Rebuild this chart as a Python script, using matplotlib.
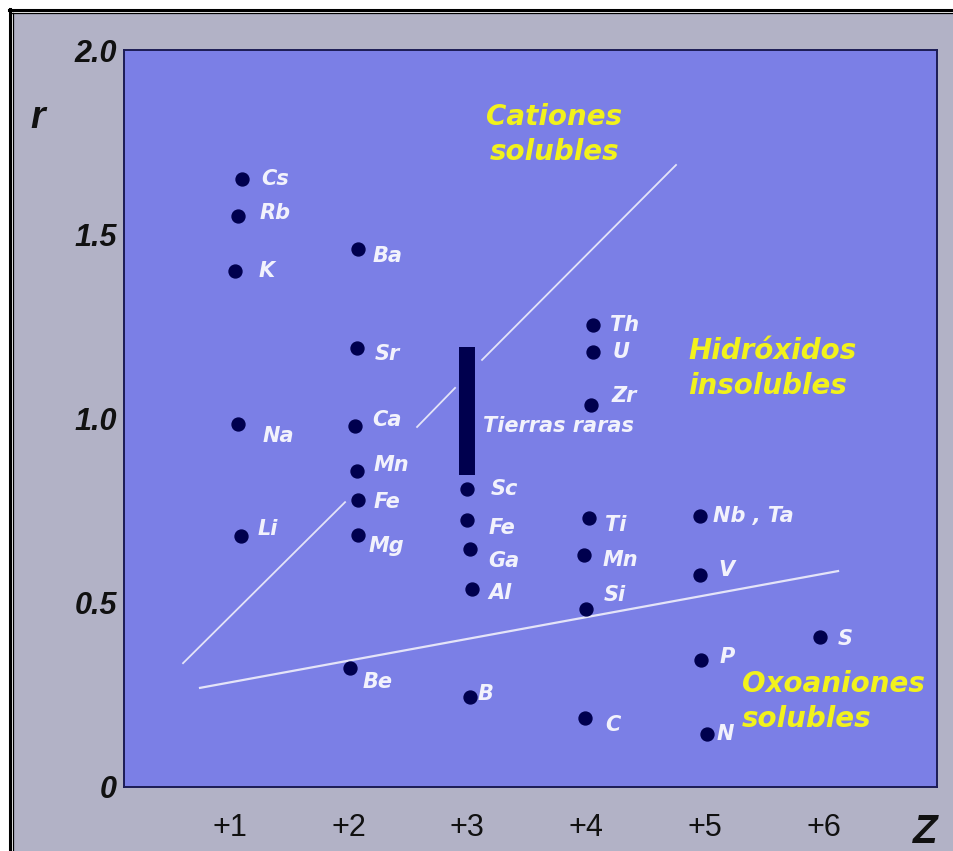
import numpy as np
import matplotlib
matplotlib.use("Agg")
import matplotlib.pyplot as plt
from matplotlib.patches import Rectangle
from matplotlib.lines import Line2D

# Datos: carga iónica (Z) y radio iónico (r) de cada elemento
elementos = ["Cs", "Rb", "K", "Na", "Li",
             "Ba", "Sr", "Ca", "Mn", "Fe", "Mg", "Be",
             "Sc", "Fe", "Ga", "Al", "B",
             "Th", "U", "Zr", "Ti", "Mn", "Si", "C",
             "Nb , Ta", "V", "P", "N",
             "S"]
carga = [1.10, 1.07, 1.04, 1.07, 1.09,
         2.08, 2.07, 2.05, 2.07, 2.08, 2.08, 2.01,
         3.00, 3.00, 3.02, 3.04, 3.02,
         4.06, 4.06, 4.04, 4.02, 3.98, 4.00, 3.99,
         4.96, 4.96, 4.97, 5.02,
         5.97]
radio = [1.65, 1.55, 1.40, 0.985, 0.68,
         1.46, 1.19, 0.98, 0.857, 0.78, 0.684, 0.323,
         0.81, 0.725, 0.646, 0.537, 0.244,
         1.254, 1.18, 1.037, 0.73, 0.63, 0.483, 0.187,
         0.735, 0.575, 0.345, 0.144,
         0.407]

# Tierras raras: intervalo de radios con carga +3
tierras_z = 3.0
tierras_r = (0.847, 1.194)

# Líneas que separan las zonas (NaN = tramo oculto tras etiquetas)
linea_sup_z = [0.606, 1.97, np.nan, 2.576, 2.896, np.nan, 3.123, 4.756]
linea_sup_r = [0.336, 0.773, np.nan, 0.977, 1.083, np.nan, 1.159, 1.688]
linea_inf_z = [0.749, 6.12]
linea_inf_r = [0.269, 0.586]

marcas_z = [1, 2, 3, 4, 5, 6]
etiquetas_z = ["+1", "+2", "+3", "+4", "+5", "+6"]
marcas_r = [0, 0.5, 1.0, 1.5, 2.0]
etiquetas_r = ["0", "0.5", "1.0", "1.5", "2.0"]

# Desplazamiento de cada etiqueta respecto a su punto (pixeles)
desplazamientos = [(20, 0), (21, 3), (24, 0), (24, -12), (17, 7),
                   (14, -7), (18, -6), (18, 6), (17, 6), (15, -2), (10, -11), (13, -14),
                   (23, 0), (21, -8), (18, -12), (16, -4), (8, 3),
                   (17, 0), (19, 0), (21, 9), (16, -7), (19, -5), (17, 14), (20, -7),
                   (13, 0), (18, 5), (18, 3), (9, 0),
                   (17, -2)]

azul_fondo = "#7b7fe6"
gris = "#b2b2c6"
azul_punto = "#00004e"
blanco = "#f2f2fc"
amarillo = "#f2f21c"
letra = "DejaVu Sans"

ancho, alto = 954, 851
fig = plt.figure(figsize=(ancho / 100, alto / 100), dpi=100, facecolor="white")

# Marco exterior: fondo gris y doble línea negra
fig.add_artist(Rectangle((14 / ancho, 0), 1, 1 - 14 / alto, transform=fig.transFigure,
                         facecolor=gris, edgecolor="none", zorder=0))
for px, lw in [(10, 2.2), (13.5, 0.9)]:
    fig.add_artist(Line2D([px / ancho, px / ancho], [0, 1 - (px - 1) / alto],
                          transform=fig.transFigure, color="black", lw=lw))
    fig.add_artist(Line2D([(px - 1) / ancho, 1], [1 - (px - 0.5) / alto, 1 - (px - 0.5) / alto],
                          transform=fig.transFigure, color="black", lw=lw))

ax = fig.add_axes([124 / ancho, 1 - 787 / alto, (937 - 124) / ancho, (787 - 50) / alto])
ax.set_facecolor(azul_fondo)
for lado in ax.spines.values():
    lado.set_color("#1c1c55")
    lado.set_linewidth(1.4)

ax.set_xlim(0.109, 6.953)
ax.set_ylim(0, 2.0)

# Líneas de separación
ax.plot(linea_sup_z, linea_sup_r, color="#e4e4f8", lw=1.3, zorder=2)
ax.plot(linea_inf_z, linea_inf_r, color="#e4e4f8", lw=1.6, zorder=2)

# Barra de tierras raras
ax.vlines(tierras_z, tierras_r[0], tierras_r[1], color=azul_punto, lw=11.5, zorder=3)
ax.text(3.13, 0.98, "Tierras raras", color=blanco, fontsize=15, fontweight="bold",
        fontstyle="italic", family=letra, va="center", ha="left")

# Puntos y etiquetas
ax.plot(carga, radio, "o", color=azul_punto, markersize=9.3, zorder=4)
for nombre, z, r, (dx, dy) in zip(elementos, carga, radio, desplazamientos):
    ax.annotate(nombre, (z, r), xytext=(dx, dy), textcoords="offset pixels",
                color=blanco, fontsize=15, fontweight="bold", fontstyle="italic",
                family=letra, va="center", ha="left")

# Nombres de las zonas
estilo_zona = dict(color=amarillo, fontsize=20, fontweight="bold", fontstyle="italic",
                   family=letra, linespacing=1.32)
ax.text(3.73, 1.771, "Cationes\nsolubles", ha="center", va="center", **estilo_zona)
ax.text(4.857, 1.136, "Hidróxidos\ninsolubles", ha="left", va="center", **estilo_zona)
ax.text(5.31, 0.232, "Oxoaniones\nsolubles", ha="left", va="center", **estilo_zona)

# Ejes
ax.set_xticks(marcas_z)
ax.set_xticklabels(etiquetas_z, fontsize=22, family="Liberation Sans")
ax.set_yticks(marcas_r)
ax.set_yticklabels(etiquetas_r, fontsize=22, fontweight="bold", fontstyle="italic",
                   family="Liberation Sans")
ax.tick_params(axis="x", length=0, pad=19, colors="#111111")
ax.tick_params(axis="y", length=0, pad=5, colors="#111111")

fig.text(38 / ancho, 1 - 118 / alto, "r", fontsize=27, fontweight="bold", fontstyle="italic",
         family="Liberation Sans", ha="center", va="center", color="#111111")
fig.text(925 / ancho, 1 - 832 / alto, "Z", fontsize=29, fontweight="bold", fontstyle="italic",
         family="Liberation Sans", ha="center", va="center", color="#111111")

fig.savefig("out.png", dpi=100, facecolor=fig.get_facecolor())
